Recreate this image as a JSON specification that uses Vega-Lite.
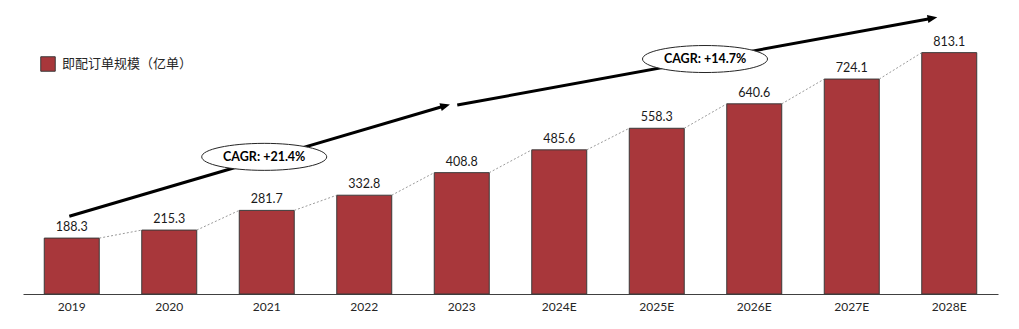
{
  "$schema": "https://vega.github.io/schema/vega-lite/v6.json",
  "width": 975,
  "height": 282,
  "autosize": "none",
  "padding": {"left": 23, "top": 12, "right": 21, "bottom": 35},
  "background": "white",
  "config": {"view": {"stroke": null}, "font": "Lato"},
  "datasets": {
    "main": [
      {"year": "2019", "value": 188.3, "series": "即配订单规模（亿单）"},
      {"year": "2020", "value": 215.3, "series": "即配订单规模（亿单）"},
      {"year": "2021", "value": 281.7, "series": "即配订单规模（亿单）"},
      {"year": "2022", "value": 332.8, "series": "即配订单规模（亿单）"},
      {"year": "2023", "value": 408.8, "series": "即配订单规模（亿单）"},
      {"year": "2024E", "value": 485.6, "series": "即配订单规模（亿单）"},
      {"year": "2025E", "value": 558.3, "series": "即配订单规模（亿单）"},
      {"year": "2026E", "value": 640.6, "series": "即配订单规模（亿单）"},
      {"year": "2027E", "value": 724.1, "series": "即配订单规模（亿单）"},
      {"year": "2028E", "value": 813.1, "series": "即配订单规模（亿单）"}
    ],
    "arrows": [
      {"seg": "a", "x": -0.025, "y": 262},
      {"seg": "a", "x": 3.83, "y": 634},
      {"seg": "b", "x": 3.954, "y": 636.4},
      {"seg": "b", "x": 8.827, "y": 929.2}
    ],
    "heads": [
      {"seg": "a", "x": 3.879, "y": 638.8},
      {"seg": "b", "x": 8.877, "y": 932.2}
    ],
    "cagr": [
      {"label": "CAGR: +21.4%", "x": 1.974, "y": 462},
      {"label": "CAGR: +14.7%", "x": 6.495, "y": 791.6}
    ]
  },
  "layer": [
    {
      "data": {"name": "main"},
      "encoding": {
        "x": {
          "field": "year", "type": "nominal", "sort": null,
          "scale": {"paddingInner": 0.436, "paddingOuter": 0.218},
          "axis": {
            "title": null, "labelAngle": 0, "ticks": false, "domainColor": "#404040",
            "domainWidth": 1, "labelFont": "Lato", "labelFontSize": 12,
            "labelColor": "#262626", "labelPadding": 7, "grid": false
          }
        },
        "y": {
          "field": "value", "type": "quantitative",
          "scale": {"domain": [0, 950], "nice": false, "zero": true},
          "axis": null
        }
      },
      "layer": [
        {
          "mark": {"type": "bar", "stroke": "#3a3a3a", "strokeWidth": 1},
          "encoding": {
            "color": {
              "field": "series", "type": "nominal",
              "scale": {"range": ["#A8373B"]},
              "legend": {
                "title": null, "orient": "none", "legendX": 17, "legendY": 44,
                "symbolType": "square", "symbolSize": 210, "symbolStrokeColor": "#3a3a3a",
                "symbolStrokeWidth": 1, "symbolOpacity": 1, "labelFont": "Noto Sans CJK SC",
                "labelFontSize": 13, "labelColor": "#262626", "padding": 0, "labelOffset": 6
              }
            }
          }
        },
        {
          "mark": {"type": "text", "baseline": "bottom", "dy": -4, "fontSize": 12.5, "font": "Lato", "color": "#1a1a1a"},
          "encoding": {"text": {"field": "value", "type": "quantitative", "format": ".1f"}}
        },
        {
          "transform": [
            {"window": [
              {"op": "lead", "field": "year", "as": "nextYear"},
              {"op": "lead", "field": "value", "as": "nextValue"}
            ]},
            {"filter": "datum.nextYear != null"}
          ],
          "mark": {"type": "rule", "color": "#808080", "strokeWidth": 0.8, "strokeDash": [2, 2]},
          "encoding": {
            "x": {"field": "year", "type": "nominal", "sort": null, "bandPosition": 1},
            "x2": {"field": "nextYear", "bandPosition": 0},
            "y": {"field": "value", "type": "quantitative"},
            "y2": {"field": "nextValue"}
          }
        }
      ]
    },
    {
      "encoding": {
        "x": {
          "field": "x", "type": "quantitative",
          "scale": {"domain": [-0.5, 9.5], "nice": false, "zero": false},
          "axis": null
        },
        "y": {"field": "y", "type": "quantitative"}
      },
      "layer": [
        {
          "data": {"name": "arrows"},
          "mark": {"type": "line", "color": "black", "strokeWidth": 3, "clip": false},
          "encoding": {"detail": {"field": "seg", "type": "nominal"}}
        },
        {
          "data": {"name": "heads"},
          "transform": [{"filter": "datum.seg == 'a'"}],
          "mark": {"type": "point", "filled": true, "color": "black", "opacity": 1, "shape": "M 0 0 L -1 -0.42 L -1 0.42 Z", "size": 380, "angle": -16.35, "clip": false}
        },
        {
          "data": {"name": "heads"},
          "transform": [{"filter": "datum.seg == 'b'"}],
          "mark": {"type": "point", "filled": true, "color": "black", "opacity": 1, "shape": "M 0 0 L -1 -0.42 L -1 0.42 Z", "size": 380, "angle": -10.35, "clip": false}
        },
        {
          "data": {"name": "cagr"},
          "mark": {"type": "point", "filled": true, "fill": "white", "opacity": 1, "stroke": "#262626", "strokeWidth": 1, "shape": "M -1 0 A 1 0.216 0 1 1 1 0 A 1 0.216 0 1 1 -1 0 Z", "size": 15625}
        },
        {
          "data": {"name": "cagr"},
          "mark": {"type": "text", "font": "Lato", "fontWeight": "bold", "fontSize": 12.5, "color": "black", "baseline": "middle", "align": "center"},
          "encoding": {"text": {"field": "label"}}
        }
      ]
    }
  ],
  "resolve": {"scale": {"x": "independent"}}
}
